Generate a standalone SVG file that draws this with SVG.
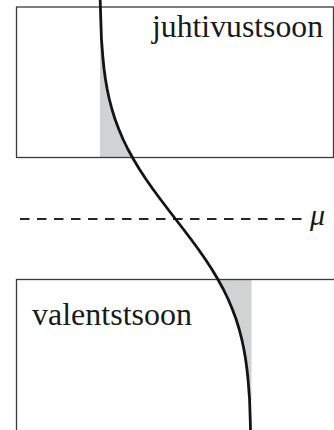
<svg xmlns="http://www.w3.org/2000/svg" width="334" height="430" viewBox="0 0 334 430">
  <style>
    .box { fill: none; stroke: #3a3a3a; stroke-width: 1.3; }
    .shade { fill: #d1d2d4; stroke: none; }
    .curve { fill: none; stroke: #141414; stroke-width: 2.8; stroke-linejoin: round; }
    .mu-line { fill: none; stroke: #262626; stroke-width: 2; stroke-dasharray: 9.5 7.5; }
    .label { font-family: "Liberation Serif", "Times New Roman", serif; font-size: 32px; fill: #1a1a1a; }
    .sym { font-family: "Liberation Serif", "Times New Roman", serif; font-size: 30px; font-style: italic; fill: #1a1a1a; }
  </style>
  <rect width="334" height="430" fill="#ffffff"/>
  <g id="shading">
    <path class="shade" d="M100,40 L101.44,39 L103,59 L104.06,69 L105.43,79 L107.15,89 L109.28,99 L111.88,109 L114.99,119 L118.72,129 L122.93,139 L127.8,149 L132.5,157.5 L100,157.5 Z"/>
    <path class="shade" d="M217.8,279.5 L223.2,289 L228.07,299 L232.28,309 L236.01,319 L239.12,329 L241.72,339 L243.85,349 L245.57,359 L246.94,369 L248,379 L249.56,399 L251.5,400 L251.5,279.5 Z"/>
  </g>
  <g id="juhtivustsoon">
    <rect class="box" x="16.5" y="7" width="317" height="150.5"/>
    <text class="label" x="152" y="37" textLength="171" lengthAdjust="spacingAndGlyphs">juhtivustsoon</text>
  </g>
  <g id="valentstsoon">
    <rect class="box" x="16.5" y="279.5" width="330" height="160"/>
    <text class="label" x="32" y="325" textLength="160" lengthAdjust="spacingAndGlyphs">valentstsoon</text>
  </g>
  <g id="mu">
    <line class="mu-line" x1="20" y1="219" x2="305" y2="219"/>
    <text class="sym" x="310" y="225">μ</text>
  </g>
  <g id="connectors">
    <path class="curve" d="M100.2,0 L100.77,19 L101.44,39 L103,59 L104.06,69 L105.43,79 L107.15,89 L109.28,99 L111.88,109 L114.99,119 L118.72,129 L122.93,139 L127.8,149 L133.32,159 L139.28,169 L145.84,179 L152.83,189 L160.18,199 L167.78,209 L175.5,219 L183.22,229 L190.82,239 L198.17,249 L205.16,259 L211.72,269 L217.68,279 L223.2,289 L228.07,299 L232.28,309 L236.01,319 L239.12,329 L241.72,339 L243.85,349 L245.57,359 L246.94,369 L248,379 L249.56,399 L250.23,419 L250.5,430"/>
  </g>
</svg>
